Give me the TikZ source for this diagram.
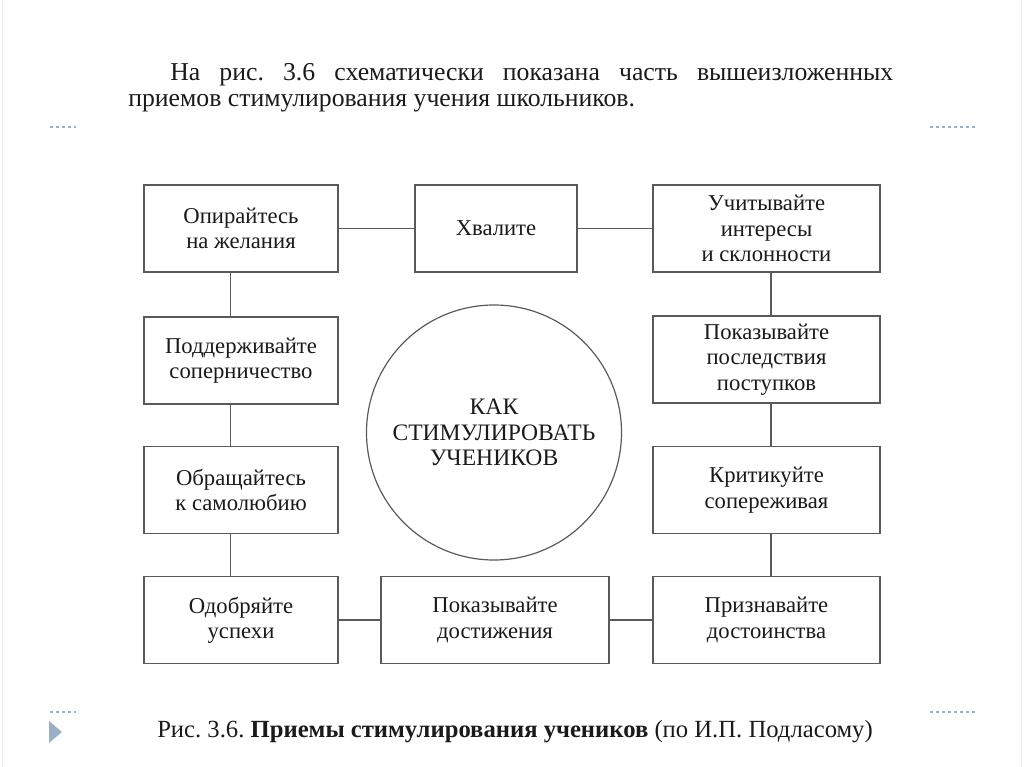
\documentclass[tikz,border=0pt]{standalone}
\usepackage{fontspec}
\setmainfont{Liberation Serif}
\frenchspacing
\newlength{\px}\setlength{\px}{0.75pt}
\definecolor{boxline}{HTML}{5A5A5A}
\definecolor{textc}{HTML}{1A1A1A}
\definecolor{deco}{HTML}{9AB0C6}
\begin{document}
\begin{tikzpicture}[x=0.75pt,y=-0.75pt,
  box/.style={draw=boxline, line width=1.1pt, fill=white, inner sep=0pt,
    align=center, text=textc, minimum height=87\px,
    font=\fontsize{17pt}{19pt}\selectfont},
  link/.style={draw=boxline, line width=1.1pt},
  decodash/.style={draw=deco, line width=0.8pt, dash pattern=on 2.5pt off 2pt}]
\useasboundingbox (0,0) rectangle (1024,767);
% slide decorations
\draw[gray!12, line width=0.6pt] (2,0) -- (2,767);
\draw[gray!12, line width=0.6pt] (1021,0) -- (1021,767);
\draw[decodash] (50,127) -- (76,127);
\draw[decodash] (930,127) -- (976,127);
\draw[decodash] (50,712) -- (76,712);
\draw[decodash] (930,712) -- (976,712);
\fill[deco] (49,721) -- (62,732) -- (49,743) -- cycle;
% header text
\node[anchor=base west, inner sep=0pt, text=textc, font=\fontsize{19.3pt}{22pt}\selectfont] (h1) at (170,80)
  {\makebox[723\px][s]{На рис. 3.6 схематически показана часть вышеизложенных}};
\node[anchor=base west, inner sep=0pt, text=textc, font=\fontsize{19.3pt}{22pt}\selectfont] (h2) at (128,106)
  {приемов стимулирования учения школьников.};
% boxes
\node[box, minimum width=194\px] (l1) at (241,228.5) {Опирайтесь\\на желания};
\node[box, minimum width=162\px] (m1) at (496,228.5) {Хвалите};
\node[box, minimum width=227\px] (r1) at (766.5,228.5) {Учитывайте\\интересы\\и склонности};
\node[box, minimum width=194\px] (l2) at (241,360.5) {Поддерживайте\\соперничество};
\node[box, minimum width=227\px] (r2) at (766.5,359.5) {Показывайте\\последствия\\поступков};
\node[box, minimum width=194\px] (l3) at (241,490) {Обращайтесь\\к самолюбию};
\node[box, minimum width=227\px] (r3) at (766.5,490) {Критикуйте\\сопереживая};
\node[box, minimum width=194\px] (l4) at (241,620) {Одобряйте\\успехи};
\node[box, minimum width=228\px] (m4) at (495,620) {Показывайте\\достижения};
\node[box, minimum width=227\px] (r4) at (766.5,620) {Признавайте\\достоинства};
% centre circle
\node[circle, draw=boxline, line width=0.9pt, minimum size=255\px, inner sep=0pt,
  align=center, text=textc, font=\fontsize{17.7pt}{19pt}\selectfont] (c) at (494,432.5)
  {КАК\\СТИМУЛИРОВАТЬ\\УЧЕНИКОВ};
% connectors
\coordinate (lx) at (230.5,0);
\coordinate (rx) at (771,0);
\draw[link] (l1) -- (m1);
\draw[link] (m1) -- (r1);
\draw[link] (l4) -- (m4);
\draw[link] (m4) -- (r4);
\draw[link] (l1.south -| lx) -- (l2.north -| lx);
\draw[link] (l2.south -| lx) -- (l3.north -| lx);
\draw[link] (l3.south -| lx) -- (l4.north -| lx);
\draw[link] (r1.south -| rx) -- (r2.north -| rx);
\draw[link] (r2.south -| rx) -- (r3.north -| rx);
\draw[link] (r3.south -| rx) -- (r4.north -| rx);
% caption
\node[anchor=base west, inner sep=0pt, text=textc, font=\fontsize{18.5pt}{21pt}\selectfont] (cap) at (157,737)
  {Рис. 3.6. \textbf{Приемы стимулирования учеников} (по И.П. Подласому)};
\end{tikzpicture}
\end{document}
